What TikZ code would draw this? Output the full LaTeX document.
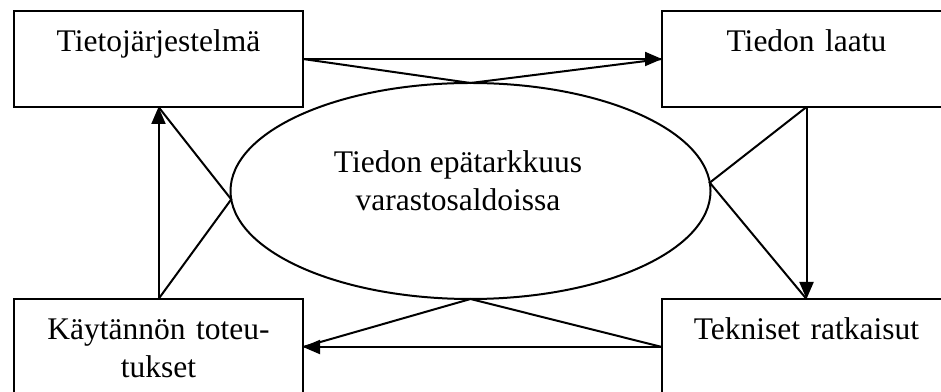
\documentclass[tikz,border=0pt]{standalone}
\usepackage{fontspec}
\setmainfont{Liberation Serif}
\usepackage{xcolor}
\usepackage{tikz}
\usetikzlibrary{arrows.meta, positioning, shapes.geometric}

\begin{document}
\begin{tikzpicture}[
    font=\fontsize{12.6pt}{15.4pt}\selectfont,
    line width=0.8pt,
    box/.style={
        rectangle,
        draw,
        minimum width=115.6pt,
        minimum height=38.4pt,
        text width=115.6pt,
        inner sep=0pt,
        outer sep=0pt,
        text height=16.2pt,
        text depth=22.2pt,
        align=center
    },
    arrow/.style={-{Triangle[length=6.8pt, width=5.6pt]}}
]

\useasboundingbox (0,0) rectangle (376.4pt,-156.8pt);
\clip (0,0) rectangle (376.4pt,-156.8pt);

\node[box] (tieto) at (63.4pt,-23.6pt) {Tietojärjestelmä};
\node[box, right=143.6pt of tieto] (laatu) {Tiedon laatu};
\node[box, below=76.8pt of tieto] (kaytanto) {Käytännön toteu-\\tukset};
\node[box, right=143.6pt of kaytanto] (tekn) {Tekniset ratkaisut};

\node[ellipse, draw, minimum width=192pt, minimum height=86.4pt,
      inner sep=0pt, outer sep=0pt] (epa) at (188.2pt,-76.4pt) {};
\node[align=center] (epateksti) at ([xshift=-5pt, yshift=4.1pt]epa.center)
    {Tiedon epätarkkuus\\varastosaldoissa};

\draw[arrow] (tieto) -- (laatu);
\draw[arrow] (laatu) -- (tekn);
\draw[arrow] (tekn) -- (kaytanto);
\draw[arrow] (kaytanto) -- (tieto);

\draw (tieto.east) -- (epa.north) -- (laatu.west);
\draw (laatu.south) -- (epa.2.9) -- (tekn.north);
\draw (tekn.west) -- (epa.south) -- (kaytanto.east);
\draw (kaytanto.north) -- (epa.182.9) -- (tieto.south);

\end{tikzpicture}
\end{document}
